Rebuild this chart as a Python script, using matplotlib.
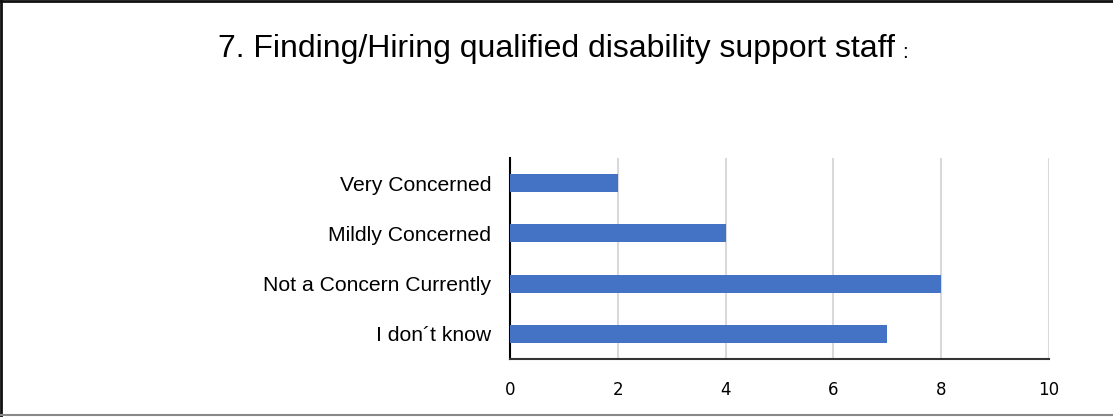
import matplotlib.pyplot as plt
from matplotlib.lines import Line2D

categories = ['Very Concerned', 'Mildly Concerned', 'Not a Concern Currently', 'I don\u00b4t know']
counts = [2, 4, 8, 7]
xticks = [0, 2, 4, 6, 8, 10]

fig = plt.figure(figsize=(11.13, 4.17), dpi=100)
ax = fig.add_axes([510 / 1113, 1 - 359 / 417, 539 / 1113, 201 / 417])

ypos = list(range(len(categories)))
ax.barh(ypos, counts, height=0.36, color='#4472C4', zorder=3)
ax.set_ylim(len(categories) - 0.5, -0.5)
ax.set_xlim(0, 10)
ax.set_yticks(ypos)
ax.set_yticklabels(categories, fontsize=15.2, family='Liberation Sans')
ax.set_xticks(xticks)
ax.set_xticklabels([str(t) for t in xticks], fontsize=12, family='DejaVu Sans')
ax.tick_params(axis='y', length=0, pad=13.5)
ax.tick_params(axis='x', length=0, pad=16)
ax.grid(axis='x', color='#d9d9d9', linewidth=1.5, zorder=0)
for side in ['top', 'right']:
    ax.spines[side].set_visible(False)
ax.spines['left'].set_linewidth(1.5)
ax.spines['bottom'].set_linewidth(1.5)
ax.spines['bottom'].set_color('#333333')

# title, with the trailing colon set a little smaller
fig.text(218 / 1113, 1 - 49 / 417, '7. Finding/Hiring qualified disability support staff',
         fontsize=23, family='Liberation Sans', ha='left', va='center')
fig.text(902 / 1113, 1 - 52 / 417, ':', fontsize=15, family='Liberation Sans',
         ha='left', va='center')

# frame lines around the figure
fig.add_artist(Line2D([0, 1], [0.997, 0.997], transform=fig.transFigure, color='#111111', linewidth=2))
fig.add_artist(Line2D([0.001, 0.001], [0, 1], transform=fig.transFigure, color='#111111', linewidth=2))
fig.add_artist(Line2D([0, 1], [0.004, 0.004], transform=fig.transFigure, color='#888888', linewidth=1.5))

fig.savefig('out.png', dpi=100)
